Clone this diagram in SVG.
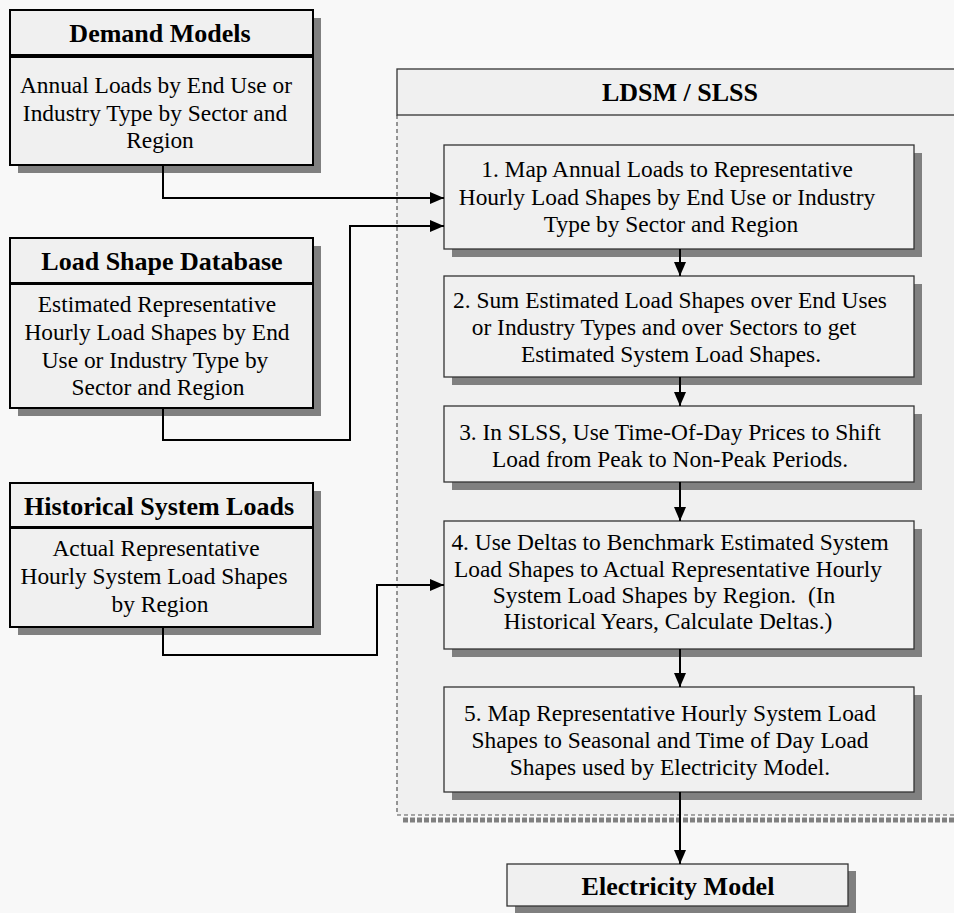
<svg xmlns="http://www.w3.org/2000/svg" width="954" height="913" viewBox="0 0 954 913">
<defs>
<marker id="ah" markerUnits="userSpaceOnUse" markerWidth="14" markerHeight="12" refX="14" refY="6" orient="auto">
<path d="M0,0 L14,6 L0,12 z" fill="#000"/>
</marker>
<style>
.bg{fill:#f8f8f8}
.shadow{fill:#808080}
.lbox{fill:#f0f0f0;stroke:#000;stroke-width:2}
.rbox{fill:#f0f0f0;stroke:#333;stroke-width:1.3}
.hd{font-family:"Liberation Serif","Times New Roman",serif;font-weight:bold;font-size:26px;fill:#000;text-anchor:middle}
.tx{font-family:"Liberation Serif","Times New Roman",serif;font-size:23.4px;fill:#000;text-anchor:middle}
.conn{fill:none;stroke:#000;stroke-width:2}
.dash{fill:none;stroke:#555;stroke-width:1.2;stroke-dasharray:4,3}
</style>
</defs>
<rect class="bg" x="0" y="0" width="954" height="913"/>

<g id="ldsm-container">
<rect x="397" y="115" width="570" height="700" fill="#f0f0f0"/>
<line x1="403" y1="820" x2="954" y2="820" stroke="#808080" stroke-width="5" stroke-dasharray="5,2"/>
<path class="dash" d="M397,115 V815 H954"/>
<rect x="397" y="69" width="570" height="46" fill="#f0f0f0" stroke="#333" stroke-width="1.3"/>
<text class="hd" x="680" y="101">LDSM / SLSS</text>
</g>

<g id="demand-models">
<rect class="shadow" x="18" y="18" width="303" height="155"/>
<rect class="lbox" x="10" y="10" width="303" height="45"/>
<rect class="lbox" x="10" y="57" width="303" height="108"/>
<line x1="10" y1="56" x2="313" y2="56" stroke="#000" stroke-width="3"/>
<text class="hd" x="160" y="42">Demand Models</text>
<text class="tx" x="156" y="93">Annual Loads by End Use or</text>
<text class="tx" x="155" y="121">Industry Type by Sector and</text>
<text class="tx" x="160" y="148">Region</text>
</g>

<g id="load-shape-database">
<rect class="shadow" x="18" y="246" width="303" height="170"/>
<rect class="lbox" x="10" y="238" width="303" height="45"/>
<rect class="lbox" x="10" y="284" width="303" height="124"/>
<line x1="10" y1="283.5" x2="313" y2="283.5" stroke="#000" stroke-width="3"/>
<text class="hd" x="162" y="270">Load Shape Database</text>
<text class="tx" x="157" y="312">Estimated Representative</text>
<text class="tx" x="157" y="340">Hourly Load Shapes by End</text>
<text class="tx" x="155" y="368">Use or Industry Type by</text>
<text class="tx" x="158" y="395">Sector and Region</text>
</g>

<g id="historical-system-loads">
<rect class="shadow" x="18" y="491" width="303" height="144"/>
<rect class="lbox" x="10" y="483" width="303" height="44"/>
<rect class="lbox" x="10" y="528" width="303" height="99"/>
<line x1="10" y1="527.5" x2="313" y2="527.5" stroke="#000" stroke-width="3"/>
<text class="hd" x="159" y="515">Historical System Loads</text>
<text class="tx" x="156" y="556">Actual Representative</text>
<text class="tx" x="154" y="584">Hourly System Load Shapes</text>
<text class="tx" x="160" y="612">by Region</text>
</g>

<g id="step1">
<rect class="shadow" x="452" y="153" width="470" height="104"/>
<rect class="rbox" x="444" y="145" width="470" height="104"/>
<text class="tx" x="667" y="177">1. Map Annual Loads to Representative</text>
<text class="tx" x="667" y="205">Hourly Load Shapes by End Use or Industry</text>
<text class="tx" x="671" y="232">Type by Sector and Region</text>
</g>

<g id="step2">
<rect class="shadow" x="452" y="284" width="470" height="101"/>
<rect class="rbox" x="444" y="276" width="470" height="101"/>
<text class="tx" x="670" y="308">2. Sum Estimated Load Shapes over End Uses</text>
<text class="tx" x="664" y="335">or Industry Types and over Sectors to get</text>
<text class="tx" x="671" y="362">Estimated System Load Shapes.</text>
</g>

<g id="step3">
<rect class="shadow" x="452" y="414" width="470" height="76"/>
<rect class="rbox" x="444" y="406" width="470" height="76"/>
<text class="tx" x="670" y="440">3. In SLSS, Use Time-Of-Day Prices to Shift</text>
<text class="tx" x="670" y="467">Load from Peak to Non-Peak Periods.</text>
</g>

<g id="step4">
<rect class="shadow" x="452" y="529" width="470" height="128"/>
<rect class="rbox" x="444" y="521" width="470" height="128"/>
<text class="tx" x="670" y="550">4. Use Deltas to Benchmark Estimated System</text>
<text class="tx" x="668" y="577">Load Shapes to Actual Representative Hourly</text>
<text class="tx" x="664" y="603" xml:space="preserve">System Load Shapes by Region.  (In</text>
<text class="tx" x="668" y="629">Historical Years, Calculate Deltas.)</text>
</g>

<g id="step5">
<rect class="shadow" x="452" y="695" width="470" height="105"/>
<rect class="rbox" x="444" y="687" width="470" height="105"/>
<text class="tx" x="670" y="721">5. Map Representative Hourly System Load</text>
<text class="tx" x="670" y="748">Shapes to Seasonal and Time of Day Load</text>
<text class="tx" x="670" y="775">Shapes used by Electricity Model.</text>
</g>

<g id="electricity-model">
<rect class="shadow" x="515" y="871" width="341" height="42"/>
<rect class="rbox" x="507" y="864" width="341" height="42"/>
<text class="hd" x="678" y="895">Electricity Model</text>
</g>

<g id="connectors">
<path class="conn" d="M163,165 V198 H444" marker-end="url(#ah)"/>
<path class="conn" d="M163,408 V440 H350 V226 H444" marker-end="url(#ah)"/>
<path class="conn" d="M163,627 V655 H377 V585 H444" marker-end="url(#ah)"/>
<path class="conn" d="M680,249 V276" marker-end="url(#ah)"/>
<path class="conn" d="M680,377 V406" marker-end="url(#ah)"/>
<path class="conn" d="M680,482 V521" marker-end="url(#ah)"/>
<path class="conn" d="M680,649 V687" marker-end="url(#ah)"/>
<path class="conn" d="M680,792 V864" marker-end="url(#ah)"/>
</g>
</svg>
